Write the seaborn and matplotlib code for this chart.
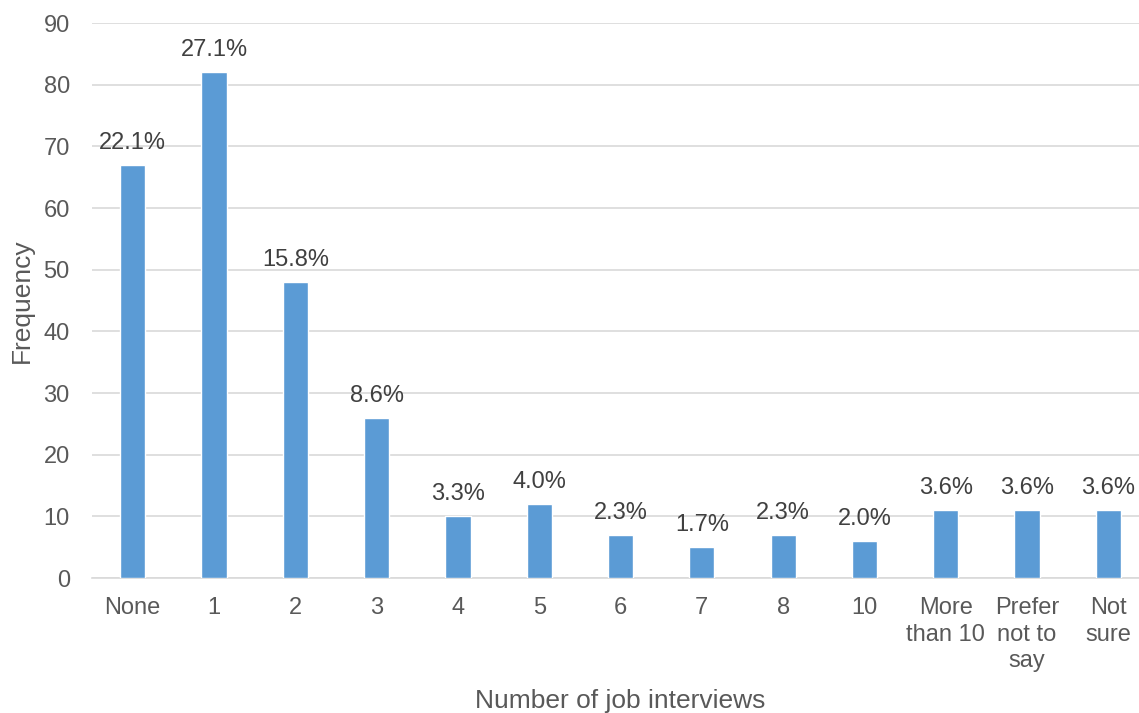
import matplotlib
matplotlib.use("Agg")
import pandas as pd
import matplotlib.pyplot as plt
import seaborn as sns

# data
categories = ["None", "1", "2", "3", "4", "5", "6", "7", "8", "10",
              "More\nthan 10", "Prefer\nnot to\nsay", "Not\nsure"]
frequency = [67, 82, 48, 26, 10, 12, 7, 5, 7, 6, 11, 11, 11]
percent_labels = ["22.1%", "27.1%", "15.8%", "8.6%", "3.3%", "4.0%", "2.3%",
                  "1.7%", "2.3%", "2.0%", "3.6%", "3.6%", "3.6%"]

df = pd.DataFrame({"interviews": categories, "freq": frequency})

sns.set_style("white")
plt.rcParams["font.family"] = ["Liberation Sans", "DejaVu Sans"]

fig = plt.figure(figsize=(11.39, 7.13), dpi=100)
ax = fig.add_axes([0.0808, 0.1893, 0.928, 0.7784])

sns.barplot(data=df, x="interviews", y="freq", color="#5B9BD5",
            width=0.31, saturation=1, ax=ax, zorder=3)

ax.set_ylim(0, 90)
ax.set_yticks(range(0, 91, 10))
ax.set_xlim(-0.5, len(categories) - 0.5)
ax.yaxis.grid(True, color="#D9D9D9", linewidth=1.2, zorder=0)
ax.set_axisbelow(True)
for side in ["top", "right", "left"]:
    ax.spines[side].set_visible(False)
ax.spines["bottom"].set_color("#D9D9D9")
ax.spines["bottom"].set_linewidth(1.2)

ax.tick_params(axis="both", length=0, labelsize=17, labelcolor="#595959")
ax.tick_params(axis="x", pad=14)
ax.tick_params(axis="y", pad=16)
for t in ax.get_xticklabels():
    t.set_linespacing(1.25)

for i, (v, lab) in enumerate(zip(frequency, percent_labels)):
    ax.annotate(lab, (i, v), xytext=(0, 8), textcoords="offset points",
                ha="center", va="bottom", fontsize=17, color="#404040")

ax.set_xlabel("Number of job interviews", fontsize=19, color="#595959", labelpad=12)
ax.set_ylabel("Frequency", fontsize=19, color="#595959", labelpad=7)

fig.savefig("out.png", dpi=100)
